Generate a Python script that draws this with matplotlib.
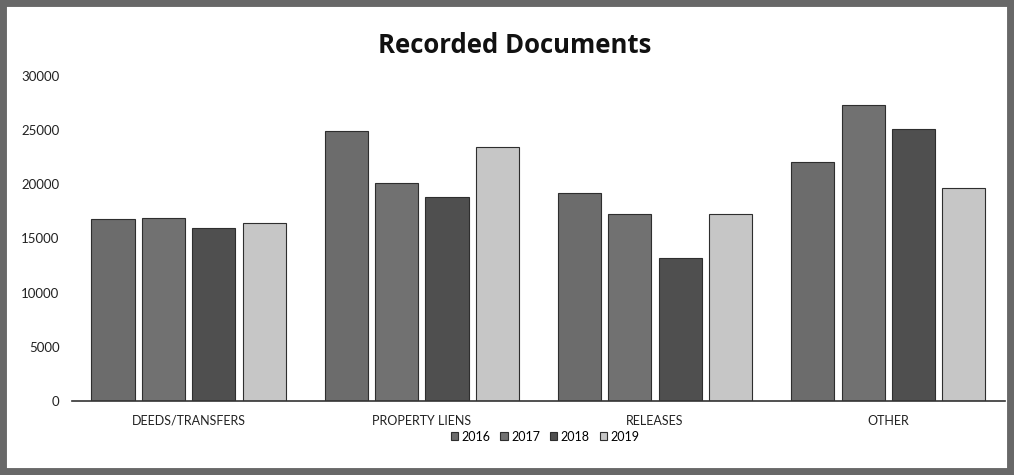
import numpy as np
import matplotlib.pyplot as plt
from matplotlib.patches import Rectangle

categories = ["DEEDS/TRANSFERS", "PROPERTY LIENS", "RELEASES", "OTHER"]
years = ["2016", "2017", "2018", "2019"]
v2016 = [16800, 24900, 19200, 22100]
v2017 = [16900, 20100, 17250, 27300]
v2018 = [15950, 18800, 13200, 25100]
v2019 = [16400, 23400, 17300, 19700]
yticks = [0, 5000, 10000, 15000, 20000, 25000, 30000]

plt.rcParams['font.family'] = ['Lato', 'DejaVu Sans']

fig = plt.figure(figsize=(10.14, 4.75), dpi=100)
ax = fig.add_axes([0.071, 0.156, 0.92, 0.684])

series = [v2016, v2017, v2018, v2019]
colors = ['#6c6c6c', '#717171', '#4f4f4f', '#c6c6c6']
x = np.arange(len(categories))
step = 0.216
width = 0.185
for i, (vals, col) in enumerate(zip(series, colors)):
    ax.bar(x + (i - 1.5) * step, vals, width, color=col, edgecolor='#2e2e2e',
           linewidth=0.8, label=years[i])

ax.set_xlim(-0.5, 3.5)
ax.set_ylim(0, 30000)
ax.set_yticks(yticks)
ax.set_yticklabels([str(t) for t in yticks], fontsize=9.5, color='#222222')
ax.set_xticks(x)
ax.set_xticklabels(categories, fontsize=9, color='#222222')
ax.tick_params(axis='x', length=0, pad=10)
ax.tick_params(axis='y', length=0, pad=9)
for s in ['top', 'right', 'left']:
    ax.spines[s].set_visible(False)
ax.spines['bottom'].set_color('#333333')
ax.spines['bottom'].set_linewidth(1.2)

fig.text(0.508, 0.905, "Recorded Documents", ha='center', va='center',
         fontsize=18.5, fontweight='bold', family=['Open Sans', 'DejaVu Sans'],
         color='#111111')

ax.legend(loc='center', bbox_to_anchor=(0.507, -0.11), ncol=4, frameon=False,
          fontsize=9, handlelength=0.6, handleheight=0.6, handletextpad=0.25,
          columnspacing=0.8)

fig.patches.append(Rectangle((0, 0), 1, 1, transform=fig.transFigure,
                             fill=False, edgecolor='#686868', linewidth=10))

fig.savefig("out.png", dpi=100)
